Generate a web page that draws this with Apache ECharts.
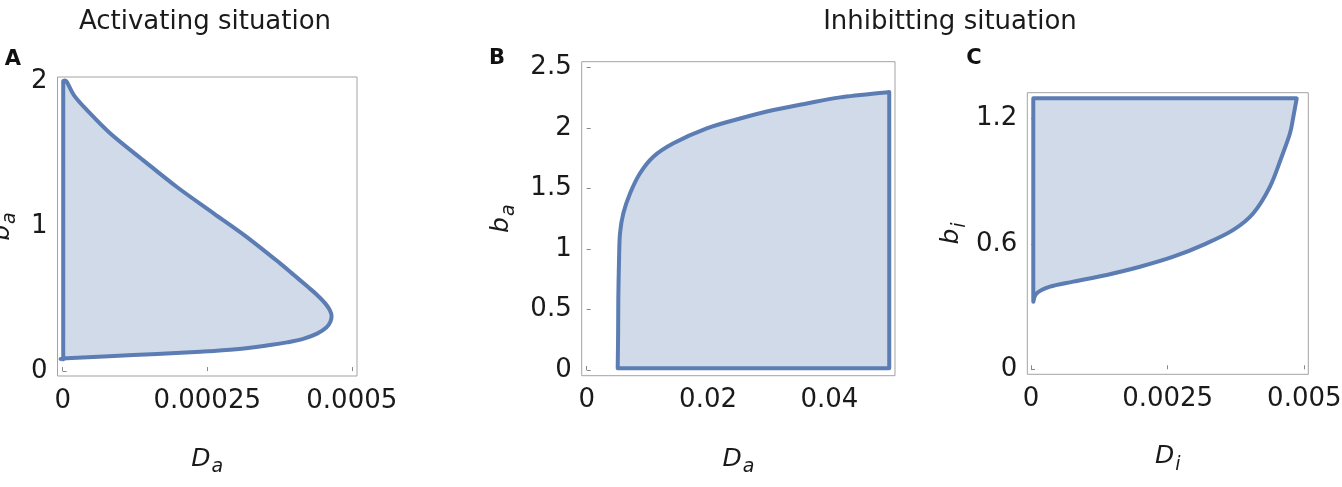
<!DOCTYPE html>
<html>
<head>
<meta charset="utf-8">
<script src="https://cdn.jsdelivr.net/npm/echarts@6/dist/echarts.min.js"></script>
<style>
html,body{margin:0;padding:0;background:#fff;}
#chart{width:1342px;height:487px;}
</style>
</head>
<body>
<div id="chart"></div>
<script>
// ---- Data ----
// Panel A: activating situation, boundary of region in (D_a, b_a)
const panelA_D = [0.000001, 0.000007, 0.000122, 0.000238, 0.000300, 0.000359, 0.000388, 0.000416, 0.000440, 0.000456, 0.000463, 0.000465, 0.000462, 0.000454, 0.000440, 0.000424, 0.000400, 0.000376, 0.000318, 0.000261, 0.000197, 0.000139, 0.000082, 0.000042, 0.000020, 0.000007, 0.000001];
const panelA_b = [0.081, 0.088, 0.110, 0.133, 0.150, 0.180, 0.198, 0.222, 0.258, 0.300, 0.340, 0.380, 0.420, 0.467, 0.525, 0.581, 0.662, 0.743, 0.926, 1.088, 1.271, 1.455, 1.640, 1.800, 1.900, 1.995, 2.000];
// Panel B: inhibiting situation, (D_a, b_a)
const panelB_D = [0.00511, 0.00518, 0.00521, 0.00533, 0.00549, 0.00604, 0.00714, 0.00879, 0.01099, 0.01429, 0.01979, 0.02528, 0.03077, 0.03627, 0.04177, 0.04985, 0.04985];
const panelB_b = [0.014, 0.300, 0.579, 0.910, 1.130, 1.296, 1.460, 1.627, 1.764, 1.875, 1.998, 2.080, 2.150, 2.205, 2.255, 2.300, 0.014];
// Panel C: inhibiting situation, (D_i, b_i)
const panelC_D = [0.000042, 0.000104, 0.000348, 0.000774, 0.001385, 0.001994, 0.002604, 0.003214, 0.003701, 0.004067, 0.004372, 0.004586, 0.004738, 0.004799, 0.004861, 0.000042];
const panelC_b = [0.323, 0.363, 0.395, 0.419, 0.451, 0.490, 0.538, 0.602, 0.666, 0.746, 0.873, 1.016, 1.128, 1.207, 1.295, 1.295];
// number of leading boundary points that lie on the smooth curve (the rest are straight edges)
const curveCountA = 27;
const curveCountB = 16;
const curveCountC = 15;

// Tick values and labels
const ticksA_x = [0, 0.00025, 0.0005];
const labelsA_x = ['0', '0.00025', '0.0005'];
const ticksA_y = [0, 1, 2];
const labelsA_y = ['0', '1', '2'];
const ticksB_x = [0, 0.02, 0.04];
const labelsB_x = ['0', '0.02', '0.04'];
const ticksB_y = [0, 0.5, 1, 1.5, 2, 2.5];
const labelsB_y = ['0', '0.5', '1', '1.5', '2', '2.5'];
const ticksC_x = [0, 0.0025, 0.005];
const labelsC_x = ['0', '0.0025', '0.005'];
const ticksC_y = [0, 0.6, 1.2];
const labelsC_y = ['0', '0.6', '1.2'];

const titles = ['Activating situation', 'Inhibitting situation'];
const panelLetters = ['A', 'B', 'C'];

// ---- Styling ----
const FONT = 'DejaVu Sans';
const LINE = '#5b7db4';
const FILL = '#d1dae8';
const FRAME = '#a3a3a3';

function zip(xs, ys) { return xs.map((x, i) => [x, ys[i]]); }

function labelFormatter(ticks, labels) {
  return v => { const i = ticks.findIndex(t => Math.abs(t - v) < 1e-12); return i >= 0 ? labels[i] : ''; };
}

function makeX(idx, min, max, ticks, labels, name, gap) {
  return {
    type: 'value', gridIndex: idx, min: min, max: max,
    splitLine: { show: false },
    axisLine: { show: false },
    axisTick: { show: true, inside: true, length: 4, lineStyle: { color: '#888' }, customValues: ticks },
    axisLabel: { customValues: ticks, margin: 12, color: '#1a1a1a', fontFamily: FONT, fontSize: 26, formatter: labelFormatter(ticks, labels) },
    name: name, nameLocation: 'middle', nameGap: gap,
    nameTextStyle: nameStyle()
  };
}
function makeY(idx, min, max, ticks, labels, name, gap) {
  return {
    type: 'value', gridIndex: idx, min: min, max: max,
    splitLine: { show: false },
    axisLine: { show: false },
    axisTick: { show: true, inside: true, length: 4, lineStyle: { color: '#888' }, customValues: ticks },
    axisLabel: { customValues: ticks, margin: 10, color: '#1a1a1a', fontFamily: FONT, fontSize: 26, formatter: labelFormatter(ticks, labels) },
    name: name, nameLocation: 'middle', nameGap: gap, nameRotate: 90,
    nameTextStyle: nameStyle()
  };
}
function nameStyle() {
  return {
    color: '#1a1a1a', fontFamily: FONT,
    rich: {
      i: { fontStyle: 'italic', fontSize: 25, fontFamily: FONT, color: '#1a1a1a', lineHeight: 30, verticalAlign: 'top' },
      s: { fontStyle: 'italic', fontSize: 19, fontFamily: FONT, color: '#1a1a1a', lineHeight: 30, verticalAlign: 'top', padding: [11, 0, 0, 1] }
    }
  };
}

// Build an SVG path: smooth (Catmull-Rom) through the first n pixel points, straight edges afterwards, closed.
function buildPath(P, n) {
  let d = 'M' + P[0][0] + ' ' + P[0][1];
  for (let i = 0; i < n - 1; i++) {
    const p0 = P[Math.max(i - 1, 0)], p1 = P[i], p2 = P[i + 1], p3 = P[Math.min(i + 2, n - 1)];
    const c1x = p1[0] + (p2[0] - p0[0]) / 6, c1y = p1[1] + (p2[1] - p0[1]) / 6;
    const c2x = p2[0] - (p3[0] - p1[0]) / 6, c2y = p2[1] - (p3[1] - p1[1]) / 6;
    d += 'C' + c1x + ' ' + c1y + ' ' + c2x + ' ' + c2y + ' ' + p2[0] + ' ' + p2[1];
  }
  for (let i = n; i < P.length; i++) d += 'L' + P[i][0] + ' ' + P[i][1];
  return d + 'Z';
}

function regionSeries(idx, pts, n) {
  return {
    type: 'custom', xAxisIndex: idx, yAxisIndex: idx, clip: false,
    data: pts,
    encode: { x: 0, y: 1 },
    renderItem: function (params, api) {
      if (params.dataIndex !== 0) return;
      const coords = pts.map(p => api.coord(p));
      return {
        type: 'path',
        shape: { pathData: buildPath(coords, n) },
        style: { fill: FILL, stroke: LINE, lineWidth: 4, lineJoin: 'round', lineCap: 'round' }
      };
    }
  };
}

const grids = [
  { left: 57.5, top: 77, width: 299.5, height: 299 },
  { left: 581.7, top: 61.7, width: 313.3, height: 314 },
  { left: 1027.3, top: 92.7, width: 281, height: 281.6 }
].map(g => Object.assign({ show: true, borderColor: FRAME, borderWidth: 1, backgroundColor: 'transparent', containLabel: false, outerBoundsMode: 'none' }, g));

const chart = echarts.init(document.getElementById('chart'), null, { renderer: 'canvas' });
chart.setOption({
  animation: false,
  backgroundColor: '#fff',
  grid: grids,
  xAxis: [
    makeX(0, -0.0000089, 0.000509, ticksA_x, labelsA_x, '{i|D}{s|a}', 71),
    makeX(1, -0.00082, 0.0508, ticksB_x, labelsB_x, '{i|D}{s|a}', 71),
    makeX(2, -0.0000677, 0.005073, ticksC_x, labelsC_x, '{i|D}{s|i}', 70)
  ],
  yAxis: [
    makeY(0, -0.034, 2.028, ticksA_y, labelsA_y, '{i|b}{s|a}', 38),
    makeY(1, -0.047, 2.55, ticksB_y, labelsB_y, '{i|b}{s|a}', 63),
    makeY(2, -0.024, 1.322, ticksC_y, labelsC_y, '{i|b}{s|i}', 58)
  ],
  series: [
    regionSeries(0, zip(panelA_D, panelA_b), curveCountA),
    regionSeries(1, zip(panelB_D, panelB_b), curveCountB),
    regionSeries(2, zip(panelC_D, panelC_b), curveCountC)
  ],
  graphic: [
    { type: 'text', x: 205, y: 22, style: { text: titles[0], fill: '#1a1a1a', font: '26px "DejaVu Sans"', align: 'center', verticalAlign: 'middle' } },
    { type: 'text', x: 950, y: 22, style: { text: titles[1], fill: '#1a1a1a', font: '26px "DejaVu Sans"', align: 'center', verticalAlign: 'middle' } },
    { type: 'text', x: 13, y: 60, style: { text: panelLetters[0], fill: '#111', font: 'bold 21px "DejaVu Sans"', align: 'center', verticalAlign: 'middle' } },
    { type: 'text', x: 497, y: 59, style: { text: panelLetters[1], fill: '#111', font: 'bold 21px "DejaVu Sans"', align: 'center', verticalAlign: 'middle' } },
    { type: 'text', x: 974, y: 59, style: { text: panelLetters[2], fill: '#111', font: 'bold 21px "DejaVu Sans"', align: 'center', verticalAlign: 'middle' } }
  ]
});
</script>
</body>
</html>
